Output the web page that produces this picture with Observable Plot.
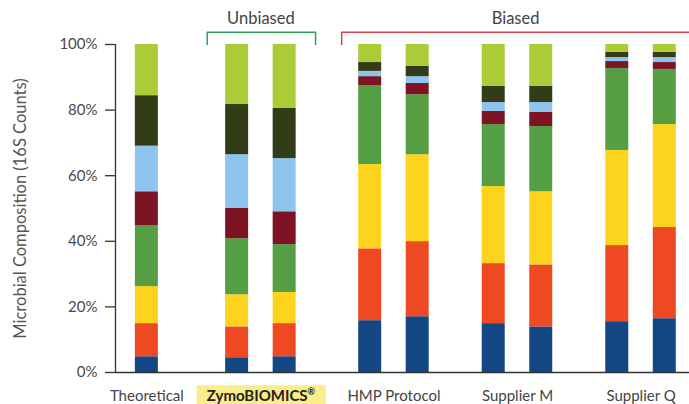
<!DOCTYPE html>
<html><head><meta charset="utf-8">
<script src="https://cdn.jsdelivr.net/npm/d3@7"></script>
<script src="https://cdn.jsdelivr.net/npm/@observablehq/plot@0.6"></script>
<style>body{margin:0;background:#fff;} #chart svg{display:block;}</style>
</head><body><div id="chart"></div>
<script>
// ---- data ----
const groups = ["Theoretical", "ZymoBIOMICS®", "HMP Protocol", "Supplier M", "Supplier Q"];
const samples = ["Theoretical", "Zymo 1", "Zymo 2", "HMP 1", "HMP 2", "Supplier M 1", "Supplier M 2", "Supplier Q 1", "Supplier Q 2"];
const sampleGroup = [0, 1, 1, 2, 2, 3, 3, 4, 4];
const species = ["Pseudomonas aeruginosa", "Escherichia coli", "Salmonella enterica", "Lactobacillus fermentum",
                 "Enterococcus faecalis", "Staphylococcus aureus", "Listeria monocytogenes", "Bacillus subtilis"];
// percent of 16S counts per sample (bottom to top of stack)
const pseudomonas = [4.8, 4.5, 4.8, 15.8, 17.0, 14.9, 13.9, 15.5, 16.4];
const ecoli       = [10.1, 9.4, 10.1, 21.9, 22.9, 18.3, 18.9, 23.2, 27.8];
const salmonella  = [11.3, 9.8, 9.5, 25.7, 26.5, 23.5, 22.3, 29.0, 31.4];
const lactobacillus = [18.6, 17.1, 14.6, 24.1, 18.3, 18.9, 19.9, 25.0, 16.8];
const enterococcus  = [10.3, 9.2, 10.0, 2.7, 3.4, 4.0, 4.3, 2.1, 2.1];
const staphylococcus = [13.9, 16.4, 16.2, 1.6, 2.1, 2.7, 3.0, 1.2, 1.5];
const listeria    = [15.4, 15.3, 15.3, 2.7, 3.1, 4.9, 4.9, 1.6, 1.6];
const bacillus    = [15.6, 18.3, 19.5, 5.5, 6.7, 12.8, 12.8, 2.4, 2.4];
const yTicks = [0, 20, 40, 60, 80, 100];
const bracketLabels = ["Unbiased", "Biased"];
const yTitle = "Microbial Composition (16S Counts)";

// ---- style / layout ----
const colors = ["#134784", "#ef4923", "#fcd31d", "#559e44", "#7d1323", "#8dc5ec", "#323d18", "#abcc37"];
const gapBefore = [0, 1.9, 1.8, 1.6, 1.6];
const hw = 0.242;
const xDomain = [-0.66, 11.42];

const values = [pseudomonas, ecoli, salmonella, lactobacillus, enterococcus, staphylococcus, listeria, bacillus];
const positions = [];
let u = 0;
samples.forEach((s, i) => {
  if (i > 0) u += sampleGroup[i] !== sampleGroup[i - 1] ? gapBefore[sampleGroup[i]] : 1;
  positions.push(u);
});
const rows = [];
samples.forEach((s, i) => {
  let acc = 0;
  species.forEach((sp, j) => {
    const v = values[j][i];
    rows.push({sample: s, species: sp, pos: positions[i], y1: acc, y2: acc + v});
    acc += v;
  });
});
const groupRows = groups.map((g, k) => ({
  label: g,
  x: d3.mean(positions.filter((p, i) => sampleGroup[i] === k))
}));
const zPos = positions.filter((p, i) => sampleGroup[i] === 1);
const bPos = positions.filter((p, i) => sampleGroup[i] >= 2);
const greenBracket = [[zPos[0] - 0.63, 100], [zPos[0] - 0.63, 103.7], [zPos[1] + 0.65, 103.7], [zPos[1] + 0.65, 100]];
const redBracket = [[bPos[0] - 0.6, 100], [bPos[0] - 0.6, 103.7], [xDomain[1], 103.7]];
const labelRows = [
  {label: bracketLabels[0], x: d3.mean(zPos)},
  {label: bracketLabels[1], x: (bPos[0] - 0.6 + xDomain[1]) / 2}
];

const plot = Plot.plot({
  width: 689, height: 404,
  marginLeft: 115, marginRight: 0, marginTop: 44, marginBottom: 32,
  style: {fontFamily: "Lato, 'Noto Sans', sans-serif", background: "#fff", overflow: "visible"},
  x: {domain: xDomain, axis: null},
  y: {domain: [0, 100], axis: null},
  color: {domain: species, range: colors},
  marks: [
    Plot.rect(rows, {x1: d => d.pos - hw, x2: d => d.pos + hw, y1: "y1", y2: "y2", fill: "species"}),
    Plot.axisY({ticks: yTicks, tickFormat: d => d + "%", tickSize: 10, tickPadding: 8, fontSize: 15,
                fill: "#4a4a4a", stroke: "#333", strokeWidth: 1.3, label: null}),
    Plot.ruleX([xDomain[0]], {y1: 0, y2: 100, stroke: "#333", strokeWidth: 1.3}),
    Plot.ruleY([0], {stroke: "#333", strokeWidth: 1.3}),
    Plot.line(greenBracket, {x: d => d[0], y: d => d[1], stroke: "#2e9d5c", strokeWidth: 1.5}),
    Plot.line(redBracket, {x: d => d[0], y: d => d[1], stroke: "#d4414b", strokeWidth: 1.5}),
    Plot.text(labelRows, {x: "x", y: 107.9, text: "label", fontSize: 16.5, fill: "#444"}),
    Plot.text(groupRows, {x: "x", y: 0, dy: 23.5, text: "label", fontSize: 15, fill: "#444"}),
    Plot.text([yTitle], {frameAnchor: "left", textAnchor: "middle", rotate: -90, dx: -95, fontSize: 16.5, fill: "#555"})
  ]
});
document.getElementById("chart").appendChild(plot);

// Style the ZymoBIOMICS label: bold, superscript ®, highlight box
d3.select(plot).selectAll("text").each(function() {
  if (this.textContent === groups[1]) {
    const t = d3.select(this);
    t.text(null).attr("font-weight", "bold").attr("fill", "#222");
    t.append("tspan").text("ZymoBIOMICS");
    t.append("tspan").text("®").attr("font-size", "9px").attr("dy", "-0.6em");
    const bb = this.getBBox();
    const cx = bb.x + bb.width / 2;
    const cy = bb.y + bb.height / 2;
    const r = document.createElementNS("http://www.w3.org/2000/svg", "rect");
    r.setAttribute("x", cx - 64.5);
    r.setAttribute("y", cy - 9.5);
    r.setAttribute("width", 129);
    r.setAttribute("height", 19);
    r.setAttribute("fill", "#fbec8c");
    if (this.getAttribute("transform")) r.setAttribute("transform", this.getAttribute("transform"));
    this.parentNode.insertBefore(r, this);
  }
});
</script>
</body></html>
